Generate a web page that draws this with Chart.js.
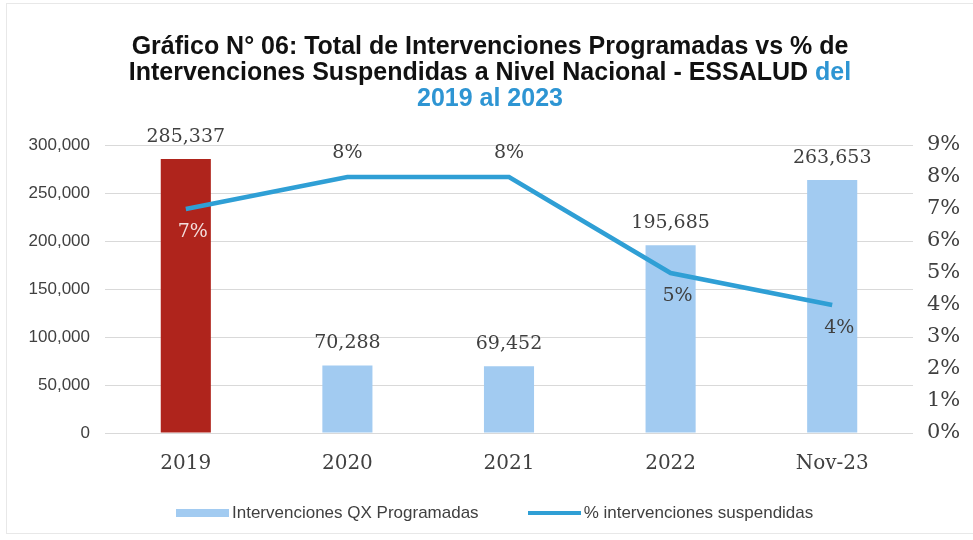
<!DOCTYPE html>
<html lang="es">
<head>
<meta charset="utf-8">
<title>Gráfico N° 06</title>
<script src="https://cdn.jsdelivr.net/npm/chart.js@4.4.1/dist/chart.umd.min.js"></script>
<style>
  html, body { margin: 0; padding: 0; background: #fff; }
  #wrap { position: relative; width: 973px; height: 540px; overflow: hidden; }
  #marco { position: absolute; left: 6px; top: 3px; width: 980px; height: 531px; border: 1px solid #e8e8e8; box-sizing: border-box; }
  #titulo {
    position: absolute; left: 0; top: 32px; width: 980px; text-align: center;
    font: bold 25px "Liberation Sans", Arial, sans-serif; line-height: 26px; color: #111;
  }
  #titulo .azul { color: #2E95D3; }
  #leyenda {
    position: absolute; left: 176px; top: 503px; display: flex; align-items: center;
    font: 17px "Liberation Sans", Arial, sans-serif; color: #404040;
  }
  #leyenda .item { display: flex; align-items: center; margin-right: 49px; }
  #leyenda .sw { display: inline-block; width: 53px; margin-right: 3px; }
  canvas { position: absolute; left: 0; top: 0; }
</style>
</head>
<body>
<div id="wrap">
  <div id="marco"></div>
  <canvas id="grafico" width="973" height="540"></canvas>
  <div id="titulo">Gráfico N° 06: Total de Intervenciones Programadas vs % de<br>Intervenciones Suspendidas a Nivel Nacional - ESSALUD <span class="azul">del</span><br><span class="azul">2019 al 2023</span></div>
  <div id="leyenda"></div>
</div>
<script>
// categorías y series
var periodos = ['2019', '2020', '2021', '2022', 'Nov-23'];
var programadas = [285337, 70288, 69452, 195685, 263653];
var suspendidas = [7, 8, 8, 5, 4]; // en %
var ticksCantidad = [0, 50000, 100000, 150000, 200000, 250000, 300000];
var ticksPorcentaje = [0, 1, 2, 3, 4, 5, 6, 7, 8, 9];

var azulBarra = '#A2CBF1';
var rojoBarra = '#AF241C';
var azulLinea = '#2F9FD5';
var gris = '#404040';
var serif = '"DejaVu Serif", "Liberation Serif", serif';

var coloresBarra = programadas.map(function(v, i) { return i === 0 ? rojoBarra : azulBarra; });

// etiquetas de valor encima de barras y junto a la línea
var etiquetas = {
  id: 'etiquetas',
  afterDatasetsDraw: function(chart) {
    var ctx = chart.ctx;
    ctx.save();
    ctx.font = '19px ' + serif;
    ctx.textAlign = 'center';
    ctx.textBaseline = 'middle';

    var barras = chart.getDatasetMeta(0);
    barras.data.forEach(function(el, i) {
      ctx.fillStyle = gris;
      ctx.fillText(programadas[i].toLocaleString('en-US'), el.x, el.y - 22);
    });

    var linea = chart.getDatasetMeta(1);
    linea.data.forEach(function(el, i) {
      var arriba = (i === 1 || i === 2);
      ctx.fillStyle = i === 0 ? '#F3DEDD' : gris;
      ctx.fillText(suspendidas[i] + '%', el.x + (arriba ? 0 : 7), arriba ? el.y - 24 : el.y + 23);
    });
    ctx.restore();
  }
};

var grafico = new Chart(document.getElementById('grafico'), {
  data: {
    labels: periodos,
    datasets: [
      {
        type: 'bar',
        label: 'Intervenciones QX Programadas',
        data: programadas,
        backgroundColor: coloresBarra,
        barPercentage: 0.31,
        categoryPercentage: 1,
        yAxisID: 'y',
        order: 1
      },
      {
        type: 'line',
        label: '% intervenciones suspendidas',
        data: suspendidas,
        borderColor: azulLinea,
        backgroundColor: azulLinea,
        borderWidth: 4.5,
        tension: 0,
        pointRadius: 0,
        yAxisID: 'y1',
        order: 0
      }
    ]
  },
  options: {
    responsive: false,
    animation: false,
    devicePixelRatio: 1,
    layout: { padding: { top: 145, bottom: 47, left: 0, right: 0 } },
    plugins: {
      legend: { display: false },
      title: { display: false },
      tooltip: { enabled: false }
    },
    scales: {
      x: {
        grid: { display: false, drawTicks: false },
        border: { display: false },
        ticks: { padding: 19, color: gris, font: { family: serif, size: 20 } },
        afterFit: function(s) { s.height = 60; }
      },
      y: {
        position: 'left',
        min: 0, max: 300000,
        grid: { color: '#D9D9D9', lineWidth: 1, drawTicks: false },
        border: { display: false },
        afterBuildTicks: function(s) { s.ticks = ticksCantidad.map(function(v) { return { value: v }; }); },
        ticks: {
          padding: 15, color: gris,
          font: { family: '"Liberation Sans", Arial, sans-serif', size: 17 },
          callback: function(v) { return v.toLocaleString('en-US'); }
        },
        afterFit: function(s) { s.width = 105; }
      },
      y1: {
        position: 'right',
        min: 0, max: 9,
        grid: { display: false, drawTicks: false },
        border: { display: false },
        afterBuildTicks: function(s) { s.ticks = ticksPorcentaje.map(function(v) { return { value: v }; }); },
        ticks: {
          padding: 14, color: gris,
          font: { family: serif, size: 21 },
          callback: function(v) { return v + '%'; }
        },
        afterFit: function(s) { s.width = 60; }
      }
    }
  },
  plugins: [etiquetas]
});

// leyenda a partir de los datasets
var leyenda = document.getElementById('leyenda');
grafico.data.datasets.forEach(function(ds) {
  var item = document.createElement('span');
  item.className = 'item';
  var sw = document.createElement('span');
  sw.className = 'sw';
  if (ds.type === 'bar') {
    sw.style.height = '8px';
    sw.style.background = azulBarra;
  } else {
    sw.style.height = '4px';
    sw.style.background = ds.borderColor;
  }
  item.appendChild(sw);
  item.appendChild(document.createTextNode(ds.label));
  leyenda.appendChild(item);
});
</script>
</body>
</html>
